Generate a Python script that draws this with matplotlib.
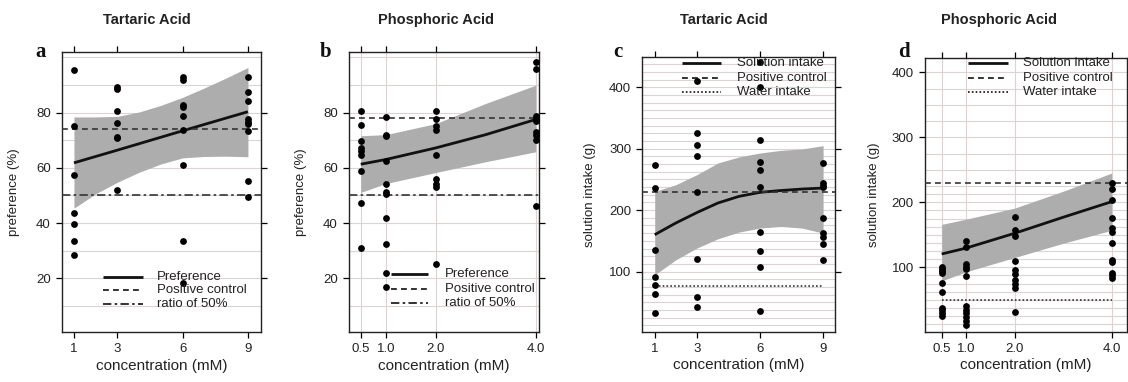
import matplotlib.pyplot as plt

plt.rcParams['font.family'] = ['Liberation Sans', 'DejaVu Sans']

# ---- panel a: tartaric acid, preference (%)
tart_conc = [1, 3, 6, 9]
tart_pref = [
    [95.4, 75.0, 57.5, 43.6, 39.6, 33.6, 28.4],
    [89.4, 88.5, 80.6, 76.3, 71.3, 70.7, 52.0],
    [93.0, 91.8, 82.8, 81.9, 78.7, 73.5, 61.1, 33.4, 18.3],
    [92.7, 87.6, 84.0, 77.5, 76.5, 75.9, 73.3, 55.1, 49.6],
]
tart_pref_fit_x = [1, 3, 6, 9]
tart_pref_fit = [61.8, 66.4, 73.4, 80.3]
tart_band_x = [1, 2, 3, 4, 5, 6, 7, 8, 9]
tart_pref_upper = [78.4, 78.4, 78.6, 80.2, 82.6, 85.5, 88.9, 92.5, 96.3]
tart_pref_lower = [45.4, 50.6, 54.8, 58.4, 61.4, 63.6, 64.1, 64.2, 64.0]

# ---- panel b: phosphoric acid, preference (%)
phos_conc = [0.5, 1.0, 2.0, 4.0]
phos_pref = [
    [80.7, 75.5, 69.6, 67.2, 66.0, 64.8, 58.8, 47.2, 31.0],
    [78.3, 72.0, 71.4, 62.4, 54.1, 51.3, 50.6, 42.0, 32.6, 22.0, 17.0],
    [80.7, 77.6, 75.2, 73.5, 64.7, 56.1, 54.0, 53.1, 25.3],
    [98.3, 95.6, 78.7, 77.8, 76.9, 73.0, 72.0, 70.0, 46.1],
]
phos_fit_x = [0.5, 1.0, 2.0, 3.0, 4.0]
phos_pref_fit = [61.3, 63.0, 67.2, 72.0, 77.5]
phos_pref_upper = [71.6, 72.0, 76.0, 83.3, 89.9]
phos_pref_lower = [51.1, 54.3, 58.3, 62.2, 65.8]

# ---- panel c: tartaric acid, solution intake (g)
tart_intake = [
    [274, 236, 135, 91, 78, 64, 32],
    [410, 326, 306, 289, 230, 121, 58, 42],
    [441, 401, 315, 279, 266, 238, 164, 134, 107, 35],
    [276, 244, 240, 237, 188, 163, 156, 145, 119],
]
tart_intake_fit = [160, 179, 196, 211.6, 222.4, 229, 232, 234.4, 236]
tart_intake_upper = [230.5, 241.4, 257.7, 276.8, 286.6, 293.1, 297.4, 299.6, 305]
tart_intake_lower = [94.6, 119, 138.2, 153.3, 164.2, 170.8, 173.4, 170.8, 162.6]

# ---- panel d: phosphoric acid, solution intake (g)
phos_intake = [
    [101, 98, 95, 92, 76, 62, 38, 34, 29, 25],
    [141, 132, 105, 101, 98, 86, 40, 34, 29, 23, 17, 12],
    [177, 158, 148, 110, 96, 90, 81, 74, 68, 32],
    [230, 220, 203, 176, 160, 154, 137, 112, 108, 92, 88, 84],
]
phos_intake_fit = [120.5, 129.5, 152.3, 177, 201]
phos_intake_upper = [166, 174, 191, 217, 245]
phos_intake_lower = [79, 93, 115, 137, 157]

# reference lines
pref_ctrl = {'a': 74, 'b': 78}
pref_half = 50
intake_ctrl = 230
water_intake = {'c': 76, 'd': 50}

BAND = '#adadad'
GRID = '#ddd3d3'
INK = '#111111'
DASH = (3.5, 2.5)
DASHDOT = (5, 2, 1.5, 2)
DOT = (1, 1.3)

fig = plt.figure(figsize=(11.28, 3.82), dpi=100)
W, H = 1128, 382


def add_axes(left, top, right, bottom):
    return fig.add_axes([left / W, 1 - bottom / H, (right - left) / W, (bottom - top) / H])


def draw_points(ax, conc, groups):
    for xv, ys in zip(conc, groups):
        ax.scatter([xv] * len(ys), ys, s=24, color='black', zorder=5, linewidths=0)


def style(ax, xlim, ylim, xticks, xticklabels, yticks, ylabel, hgrid, vgrid, ylab_x):
    for g in hgrid:
        ax.axhline(g, color=GRID, lw=0.8, zorder=0)
    for g in vgrid:
        ax.axvline(g, color=GRID, lw=0.8, zorder=0)
    ax.set_xlim(xlim)
    ax.set_ylim(ylim)
    ax.set_xticks(xticks)
    ax.set_xticklabels(xticklabels)
    ax.set_yticks(yticks)
    ax.tick_params(direction='out', length=4.5, width=0.9, top=True, right=True,
                   labelsize=9.5, pad=3.5, labelcolor='#222222')
    for s in ax.spines.values():
        s.set_linewidth(1.0)
        s.set_color('#222222')
    ax.set_xlabel('concentration (mM)', fontsize=11, color='#222222')
    ax.xaxis.set_label_coords(0.5, -0.095)
    ax.set_ylabel(ylabel, fontsize=9.5, color='#222222')
    ax.yaxis.set_label_coords(ylab_x, 0.5)


def legend(ax, x0, x1, xt, rows, labels, styles, size):
    for y, lab, st in zip(rows, labels, styles):
        ax.plot([x0, x1], [y, y], transform=ax.transAxes, color=INK, clip_on=False, zorder=6, **st)
        ax.text(xt, y, lab, transform=ax.transAxes, fontsize=size, va='center', ha='left',
                color='#222222', zorder=6)


solid = dict(lw=2.0, solid_capstyle='butt')
dashed = dict(lw=1.2, dashes=DASH)
dashdot = dict(lw=1.2, dashes=DASHDOT)
dotted = dict(lw=1.2, dashes=DOT)

# panel a
ax = add_axes(62, 51.7, 261, 332.3)
ax.fill_between(tart_band_x, tart_pref_lower, tart_pref_upper, color=BAND, lw=0, zorder=1)
ax.plot(tart_pref_fit_x, tart_pref_fit, color=INK, zorder=3, **solid)
ax.axhline(pref_ctrl['a'], color='#333333', zorder=3, **dashed)
ax.axhline(pref_half, color='#333333', zorder=3, **dashdot)
draw_points(ax, tart_conc, tart_pref)
style(ax, (0.45, 9.6), (0.5, 102), tart_conc, ['1', '3', '6', '9'], [20, 40, 60, 80],
      'preference (%)', range(10, 101, 10), [], -0.21)
legend(ax, 0.206, 0.407, 0.477, [0.197, 0.150, 0.101],
       ['Preference', 'Positive control', 'ratio of 50%'], [solid, dashed, dashdot], 9.5)

# panel b
ax = add_axes(349, 51.7, 539.3, 332.3)
ax.fill_between(phos_fit_x, phos_pref_lower, phos_pref_upper, color=BAND, lw=0, zorder=1)
ax.plot(phos_fit_x, phos_pref_fit, color=INK, zorder=3, **solid)
ax.axhline(pref_ctrl['b'], color='#333333', zorder=3, **dashed)
ax.axhline(pref_half, color='#333333', zorder=3, **dashdot)
draw_points(ax, phos_conc, phos_pref)
style(ax, (0.265, 4.07), (0.5, 102), phos_conc, ['0.5', '1.0', '2.0', '4.0'], [20, 40, 60, 80],
      'preference (%)', range(10, 101, 10), phos_conc, -0.22)
legend(ax, 0.221, 0.415, 0.504, [0.208, 0.154, 0.104],
       ['Preference', 'Positive control', 'ratio of 50%'], [solid, dashed, dashdot], 9.5)

# panel c
ax = add_axes(642.3, 57.3, 835.3, 332.3)
ax.fill_between(tart_band_x, tart_intake_lower, tart_intake_upper, color=BAND, lw=0, zorder=1)
ax.plot(tart_band_x, tart_intake_fit, color=INK, zorder=3, **solid)
ax.axhline(intake_ctrl, color='#333333', zorder=3, **dashed)
ax.plot([tart_conc[0], tart_conc[-1]], [water_intake['c']] * 2, color='#333333', zorder=3, **dotted)
draw_points(ax, tart_conc, tart_intake)
style(ax, (0.41, 9.58), (1, 449), tart_conc, ['1', '3', '6', '9'], [100, 200, 300, 400],
      'solution intake (g)', [12.5 * k for k in range(1, 36)], [], -0.24)
legend(ax, 0.206, 0.407, 0.489, [0.978, 0.924, 0.873],
       ['Solution intake', 'Positive control', 'Water intake'], [solid, dashed, dotted], 9.5)

# panel d
ax = add_axes(925, 58, 1127.3, 332.3)
ax.fill_between(phos_fit_x, phos_intake_lower, phos_intake_upper, color=BAND, lw=0, zorder=1)
ax.plot(phos_fit_x, phos_intake_fit, color=INK, zorder=3, **solid)
ax.axhline(intake_ctrl, color='#333333', zorder=3, **dashed)
ax.plot([phos_conc[0], phos_conc[-1]], [water_intake['d']] * 2, color='#333333', zorder=3, **dotted)
draw_points(ax, phos_conc, phos_intake)
d_grid = [12.5 * k for k in range(1, 19)] + [25 * k for k in range(10, 17)]
style(ax, (0.157, 4.32), (0, 422), phos_conc, ['0.5', '1.0', '2.0', '4.0'], [100, 200, 300, 400],
      'solution intake (g)', d_grid, phos_conc, -0.22)
legend(ax, 0.214, 0.412, 0.483, [0.982, 0.928, 0.876],
       ['Solution intake', 'Positive control', 'Water intake'], [solid, dashed, dotted], 9.5)

# titles and panel letters
for xc, t in [(147, 'Tartaric Acid'), (435.5, 'Phosphoric Acid'),
              (723.7, 'Tartaric Acid'), (999, 'Phosphoric Acid')]:
    fig.text(xc / W, 1 - 20 / H, t, ha='center', va='center', fontsize=10.5,
             fontweight='bold', color='#222222')
for xl, letter in [(35, 'a'), (320, 'b'), (613, 'c'), (898, 'd')]:
    fig.text(xl / W, 1 - 57 / H, letter, ha='left', va='baseline', fontsize=15,
             fontweight='bold', family='Liberation Serif', color='#111111')

fig.savefig('out.png', dpi=100)
